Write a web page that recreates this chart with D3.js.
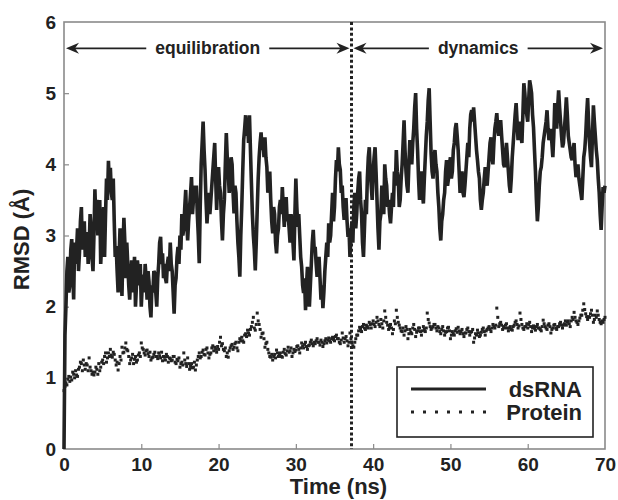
<!DOCTYPE html>
<html>
<head>
<meta charset="utf-8">
<script src="https://cdn.jsdelivr.net/npm/d3@7"></script>
<style>
  body { margin: 0; background: #fff; }
  svg { display: block; }
</style>
</head>
<body>
<svg></svg>
<script>
const w = 618
const h = 500

// time step of both series (ns)
const step = 0.125

// dsRNA RMSD (Å), 8 values per ns from 0 to 70 ns
const dsRNA = [
  0.0, 1.6, 2.0, 2.5, 2.7, 2.2, 2.3, 2.8,
  2.95, 2.5, 2.1, 2.9, 2.6, 2.8, 3.1, 2.5,
  2.75, 3.2, 3.4, 2.8, 3.0, 3.2, 2.7, 2.9,
  3.05, 2.6, 2.8, 3.3, 3.1, 2.7, 2.5, 3.0,
  3.65, 3.2, 3.5, 3.0, 3.2, 3.5, 2.6, 2.9,
  3.15, 3.4, 2.7, 3.3, 3.8, 3.5, 4.05, 3.7,
  3.95, 3.6, 3.5, 3.8, 3.2, 2.7, 2.85, 2.5,
  2.2, 2.7, 3.1, 2.5, 2.15, 2.8, 3.25, 2.9,
  2.4, 2.9, 2.6, 2.3, 2.1, 2.4, 2.65, 2.2,
  2.4, 2.7, 2.0, 2.3, 2.65, 2.5, 2.3, 2.6,
  2.0, 2.3, 2.45, 2.2, 2.6, 2.4, 2.1, 2.5,
  2.35, 2.0, 1.85, 2.3, 2.2, 2.5, 2.47, 2.2,
  2.0, 2.4, 2.6, 2.9, 2.98, 2.6, 2.75, 2.4,
  2.6, 2.4, 2.33, 2.6, 2.7, 2.5, 2.9, 2.6,
  2.5, 2.2, 1.9, 2.3, 2.4, 2.7, 2.84, 2.6,
  3.0, 2.8, 3.3, 3.0, 3.1, 3.4, 3.64, 3.2,
  2.93, 3.2, 3.4, 3.6, 3.82, 3.3, 3.5, 3.7,
  3.5, 3.7, 3.3, 3.0, 2.61, 3.4, 4.0, 4.3,
  4.6, 4.2, 3.92, 3.5, 3.17, 3.4, 3.6, 3.3,
  3.5, 3.7, 3.9, 4.1, 4.3, 3.8, 3.36, 3.7,
  3.96, 3.7, 3.6, 3.2, 2.93, 3.3, 3.5, 4.0,
  4.44, 4.1, 3.9, 3.6, 3.74, 4.1, 4.0, 3.6,
  3.31, 3.7, 3.6, 3.2, 2.9, 2.7, 2.42, 3.0,
  3.4, 3.9, 4.34, 4.5, 4.69, 4.4, 4.62, 4.3,
  4.69, 4.2, 3.74, 3.3, 3.0, 2.8, 2.51, 2.9,
  3.36, 3.8, 4.1, 4.3, 4.45, 4.2, 4.38, 4.1,
  4.38, 4.1, 3.96, 3.6, 3.7, 3.9, 3.5, 3.2,
  3.03, 3.4, 3.3, 2.9, 2.75, 3.0, 3.1, 3.4,
  3.5, 3.3, 3.68, 3.4, 3.12, 3.4, 3.54, 3.2,
  3.3, 3.1, 2.9, 3.3, 3.2, 2.9, 2.65, 3.3,
  3.8, 3.4, 3.12, 3.3, 3.0, 2.7, 2.56, 2.3,
  2.19, 2.4, 1.95, 2.3, 2.56, 2.2, 2.0, 2.3,
  2.6, 2.9, 3.08, 2.8, 2.84, 2.6, 2.42, 2.6,
  2.7, 2.4, 2.1, 2.3, 1.98, 2.2, 2.5, 2.7,
  2.9, 2.7, 3.17, 2.9, 3.0, 3.3, 3.6, 3.2,
  3.4, 3.8, 4.06, 3.9, 4.24, 4.0, 3.92, 3.6,
  3.7, 3.4, 3.22, 3.5, 3.5, 3.2, 2.98, 3.1,
  2.7, 3.0, 3.2, 2.9, 3.4, 3.6, 3.1, 3.3,
  3.6, 3.8, 3.9, 3.5, 3.3, 2.9, 2.7, 3.1,
  3.5, 3.3, 3.8, 4.1, 4.24, 3.9, 3.7, 3.5,
  3.9, 4.1, 4.24, 3.9, 3.5, 3.1, 2.8, 3.2,
  3.3, 3.7, 3.6, 3.3, 4.0, 3.8, 3.7, 3.4,
  3.5, 3.3, 3.17, 3.4, 3.6, 3.4, 3.9, 3.7,
  4.2, 3.9, 3.8, 3.4, 3.5, 3.8, 4.0, 4.3,
  4.62, 4.2, 3.9, 3.7, 3.6, 4.0, 4.34, 4.1,
  4.0, 4.3, 4.5, 4.8, 5.0, 4.5, 4.2, 3.8,
  3.5, 3.7, 3.9, 3.6, 3.45, 3.8, 4.1, 4.4,
  4.6, 4.9, 5.07, 4.6, 4.15, 3.9, 3.8, 4.1,
  4.2, 4.0, 3.9, 3.6, 3.4, 3.1, 2.93, 3.2,
  3.3, 3.5, 3.6, 3.9, 4.06, 3.7, 3.8, 4.0,
  4.1, 3.8, 3.9, 4.2, 4.3, 4.5, 4.58, 4.4,
  4.2, 3.9, 3.6, 3.8, 3.9, 3.6, 3.54, 3.7,
  3.9, 4.1, 4.3, 4.1, 4.5, 4.7, 4.76, 4.6,
  4.8, 4.6, 4.4, 4.2, 4.06, 3.9, 3.8, 3.5,
  3.36, 3.5, 3.6, 3.8, 3.96, 3.8, 3.7, 3.9,
  4.1, 4.3, 4.38, 4.1, 4.0, 4.3, 4.5, 4.6,
  4.72, 4.5, 4.4, 4.5, 4.62, 4.4, 4.2, 4.0,
  3.96, 4.1, 4.3, 4.1, 3.9, 3.7, 3.6, 3.8,
  4.1, 4.3, 4.5, 4.7, 4.86, 4.6, 4.34, 4.5,
  4.6, 4.4, 4.3, 4.7, 5.14, 5.0, 4.8, 4.7,
  4.6, 4.9, 5.18, 5.1, 5.0, 4.7, 4.52, 4.2,
  3.9, 3.5, 3.2, 3.4, 3.7, 3.9, 3.96, 4.1,
  4.3, 4.4, 4.5, 4.6, 4.76, 4.5, 4.34, 4.4,
  4.5, 4.3, 4.1, 4.4, 4.86, 4.7, 4.5, 4.8,
  5.04, 4.8, 4.6, 4.4, 4.24, 4.3, 4.5, 4.7,
  4.94, 4.7, 4.4, 4.3, 4.2, 4.1, 4.06, 4.2,
  4.3, 4.0, 3.82, 3.9, 4.0, 3.8, 3.7, 3.6,
  3.5, 3.8, 4.1, 4.2, 4.4, 4.7, 4.93, 4.6,
  4.3, 4.1, 3.96, 4.4, 4.83, 4.6, 4.4, 4.2,
  4.06, 3.8, 3.6, 3.3, 3.08, 3.4, 3.68, 3.6,
  3.7
]

// protein RMSD (Å), same time grid
const protein = [
  0.82, 0.88, 0.93, 0.9, 0.98, 1.02, 0.95, 1.01,
  0.97, 1.08, 1.05, 1.0, 1.1, 1.04, 1.02, 1.12,
  1.15, 1.22, 1.2, 1.1, 1.25, 1.18, 1.12, 1.2,
  1.18, 1.1, 1.28, 1.15, 1.1, 1.05, 1.08, 1.04,
  1.08, 1.15, 1.12, 1.05, 1.2, 1.1, 1.15, 1.22,
  1.25, 1.2, 1.3, 1.35, 1.22, 1.28, 1.35, 1.3,
  1.4, 1.32, 1.29, 1.36, 1.33, 1.25, 1.18, 1.22,
  1.11, 1.2, 1.3, 1.25, 1.43, 1.35, 1.36, 1.42,
  1.49, 1.4, 1.38, 1.3, 1.2, 1.25, 1.28, 1.33,
  1.2, 1.26, 1.3, 1.22, 1.25, 1.32, 1.35, 1.3,
  1.49, 1.42, 1.4, 1.35, 1.32, 1.38, 1.39, 1.34,
  1.3, 1.36, 1.25, 1.28, 1.29, 1.33, 1.36, 1.3,
  1.3, 1.27, 1.35, 1.31, 1.28, 1.36, 1.24, 1.3,
  1.29, 1.25, 1.33, 1.3, 1.22, 1.28, 1.27, 1.24,
  1.25, 1.3, 1.3, 1.22, 1.2, 1.26, 1.24, 1.28,
  1.15, 1.2, 1.22, 1.18, 1.35, 1.25, 1.2, 1.16,
  1.28, 1.2, 1.12, 1.16, 1.2, 1.14, 1.15, 1.22,
  1.11, 1.18, 1.25, 1.3, 1.35, 1.28, 1.3, 1.36,
  1.39, 1.33, 1.32, 1.4, 1.42, 1.35, 1.28, 1.33,
  1.35, 1.42, 1.45, 1.38, 1.43, 1.4, 1.36, 1.44,
  1.4, 1.5, 1.57, 1.45, 1.48, 1.4, 1.38, 1.42,
  1.3, 1.35, 1.29, 1.38, 1.42, 1.45, 1.47, 1.4,
  1.43, 1.48, 1.5, 1.42, 1.38, 1.5, 1.55, 1.52,
  1.57, 1.52, 1.5, 1.6, 1.62, 1.58, 1.67, 1.63,
  1.6, 1.68, 1.72, 1.78, 1.85, 1.7, 1.67, 1.75,
  1.91, 1.8, 1.75, 1.68, 1.57, 1.62, 1.63, 1.55,
  1.43, 1.48, 1.5, 1.4, 1.35, 1.3, 1.29, 1.33,
  1.25, 1.3, 1.33, 1.28, 1.39, 1.35, 1.3, 1.32,
  1.35, 1.3, 1.29, 1.36, 1.4, 1.34, 1.32, 1.38,
  1.43, 1.36, 1.38, 1.42, 1.3, 1.35, 1.4, 1.37,
  1.39, 1.44, 1.45, 1.4, 1.35, 1.42, 1.49, 1.45,
  1.42, 1.47, 1.5, 1.44, 1.4, 1.45, 1.46, 1.5,
  1.53, 1.48, 1.45, 1.5, 1.48, 1.52, 1.55, 1.5,
  1.5, 1.46, 1.53, 1.5, 1.44, 1.48, 1.52, 1.55,
  1.49, 1.53, 1.56, 1.52, 1.5, 1.55, 1.57, 1.54,
  1.52, 1.58, 1.6, 1.55, 1.55, 1.5, 1.48, 1.53,
  1.63, 1.56, 1.5, 1.55, 1.58, 1.52, 1.45, 1.5,
  1.63, 1.55, 1.49, 1.45, 1.43, 1.5, 1.55, 1.6,
  1.6, 1.66, 1.71, 1.68, 1.65, 1.72, 1.75, 1.7,
  1.68, 1.74, 1.72, 1.7, 1.78, 1.75, 1.7, 1.76,
  1.8, 1.75, 1.72, 1.78, 1.85, 1.8, 1.75, 1.72,
  1.82, 1.76, 1.7, 1.8, 1.94, 1.85, 1.78, 1.74,
  1.68, 1.72, 1.75, 1.7, 1.62, 1.68, 1.8, 1.76,
  1.95, 1.85, 1.78, 1.74, 1.7, 1.66, 1.65, 1.7,
  1.6, 1.66, 1.72, 1.68, 1.55, 1.62, 1.68, 1.64,
  1.62, 1.7, 1.75, 1.68, 1.58, 1.64, 1.66, 1.7,
  1.7, 1.65, 1.6, 1.66, 1.72, 1.68, 1.65, 1.7,
  1.91, 1.82, 1.77, 1.72, 1.68, 1.7, 1.72, 1.75,
  1.75, 1.7, 1.66, 1.72, 1.7, 1.65, 1.62, 1.68,
  1.72, 1.66, 1.6, 1.64, 1.65, 1.7, 1.71, 1.66,
  1.55, 1.6, 1.65, 1.62, 1.6, 1.66, 1.69, 1.64,
  1.71, 1.66, 1.62, 1.65, 1.68, 1.62, 1.58, 1.63,
  1.63, 1.68, 1.7, 1.65, 1.6, 1.64, 1.65, 1.68,
  1.5, 1.56, 1.62, 1.6, 1.67, 1.63, 1.58, 1.6,
  1.64, 1.68, 1.7, 1.65, 1.6, 1.66, 1.68, 1.7,
  1.72, 1.68, 1.65, 1.7, 1.75, 1.72, 1.7, 1.74,
  1.98, 1.85, 1.72, 1.76, 1.78, 1.74, 1.68, 1.72,
  1.7, 1.74, 1.76, 1.7, 1.66, 1.7, 1.72, 1.68,
  1.67, 1.72, 1.74, 1.78, 1.8, 1.75, 1.7, 1.73,
  1.91, 1.82, 1.75, 1.7, 1.68, 1.72, 1.72, 1.76,
  1.7, 1.75, 1.78, 1.72, 1.65, 1.7, 1.73, 1.7,
  1.67, 1.72, 1.75, 1.7, 1.7, 1.68, 1.66, 1.72,
  1.81, 1.76, 1.72, 1.7, 1.68, 1.74, 1.76, 1.72,
  1.63, 1.68, 1.7, 1.74, 1.75, 1.7, 1.68, 1.72,
  1.72, 1.76, 1.78, 1.74, 1.7, 1.74, 1.76, 1.8,
  1.74, 1.78, 1.8, 1.76, 1.72, 1.8, 1.85, 1.82,
  1.92, 1.85, 1.8, 1.78, 1.75, 1.8, 1.84, 1.88,
  1.88, 1.95, 2.04, 1.96, 1.9, 1.86, 1.82, 1.86,
  1.85, 1.9, 1.95, 1.88, 1.78, 1.82, 1.88, 1.85,
  1.94, 1.88, 1.82, 1.78, 1.76, 1.8, 1.78, 1.82,
  1.85
]

const xTicks = [0, 10, 20, 30, 40, 50, 60, 70]
const yTicks = [0, 1, 2, 3, 4, 5, 6]
const splitTime = 37.2   // end of equilibration
const phases = [
  {label: 'equilibration', from: 0, to: splitTime},
  {label: 'dynamics', from: splitTime, to: 70}
]
const legendItems = [
  {label: 'dsRNA', dotted: false},
  {label: 'Protein', dotted: true}
]

const font = '"Liberation Sans", Arial, sans-serif'
const ink = '#222'

const svg = d3.select('svg')
  .attr('width', w)
  .attr('height', h);

const margin = {top: 22, right: 13, bottom: 51, left: 64};
const innerWidth = w - margin.left - margin.right;
const innerHeight = h - margin.top - margin.bottom;

const xScale = d3.scaleLinear().domain([0, 70]).range([0, innerWidth]);
const yScale = d3.scaleLinear().domain([0, 6]).range([innerHeight, 0]);

const g = svg.append('g')
  .attr('transform', `translate(${margin.left}, ${margin.top})`);

// frame
g.append('rect')
  .attr('width', innerWidth)
  .attr('height', innerHeight)
  .attr('fill', 'none')
  .attr('stroke', '#8a8a8a')
  .attr('stroke-width', 1.6);

// axes with inward ticks
const xAxisG = g.append('g')
  .attr('transform', `translate(0, ${innerHeight})`)
  .call(d3.axisBottom(xScale).tickValues(xTicks).tickFormat(d3.format('d')).tickSize(-5).tickPadding(9));
const yAxisG = g.append('g')
  .call(d3.axisLeft(yScale).tickValues(yTicks).tickFormat(d3.format('d')).tickSize(-5).tickPadding(8));

[xAxisG, yAxisG].forEach(a => {
  a.attr('font-family', font).attr('font-size', 19).attr('font-weight', 'bold');
  a.select('.domain').remove();
  a.selectAll('.tick line').attr('stroke', '#8a8a8a').attr('stroke-width', 1.2);
  a.selectAll('.tick text').attr('fill', ink);
});
xAxisG.selectAll('.tick line').filter(d => d === 0 || d === 70).remove();
yAxisG.selectAll('.tick line').filter(d => d === 0 || d === 6).remove();

// axis titles
svg.append('text')
  .attr('x', margin.left + innerWidth / 2 + 4)
  .attr('y', 494)
  .attr('text-anchor', 'middle')
  .attr('font-family', font).attr('font-weight', 'bold').attr('font-size', 22)
  .attr('fill', ink)
  .text('Time (ns)');

svg.append('text')
  .attr('transform', `translate(29, ${margin.top + innerHeight / 2 + 4}) rotate(-90)`)
  .attr('text-anchor', 'middle')
  .attr('font-family', font).attr('font-weight', 'bold').attr('font-size', 22)
  .attr('fill', ink)
  .text('RMSD (Å)');

// dsRNA trace
const line = d3.line()
  .x((d, i) => xScale(i * step))
  .y(d => yScale(d));

g.append('path')
  .datum(dsRNA)
  .attr('d', line)
  .attr('fill', 'none')
  .attr('stroke', ink)
  .attr('stroke-width', 3.6)
  .attr('stroke-linejoin', 'miter')
  .attr('stroke-miterlimit', 2);

// protein dots
g.selectAll('rect.pt').data(protein)
  .enter().append('rect')
  .attr('class', 'pt')
  .attr('x', (d, i) => xScale(i * step) - 1.5)
  .attr('y', d => yScale(d) - 1.5)
  .attr('width', 3)
  .attr('height', 3)
  .attr('fill', ink);

// equilibration / dynamics split
g.append('line')
  .attr('x1', xScale(splitTime)).attr('x2', xScale(splitTime))
  .attr('y1', 0).attr('y2', innerHeight)
  .attr('stroke', ink)
  .attr('stroke-width', 3)
  .attr('stroke-dasharray', '3,2.4');

// phase arrows
const arrowY = yScale(5.63);
const head = (tip, dir) => {
  // notched arrowhead pointing in dir (+1 right, -1 left)
  const L = 13 * dir, n = 9 * dir;
  return `M${tip},${arrowY} L${tip - L},${arrowY - 5.5} L${tip - n},${arrowY} L${tip - L},${arrowY + 5.5} Z`;
};
phases.forEach(p => {
  const x0 = xScale(p.from) + 2, x1 = xScale(p.to) - 2;
  const mid = (x0 + x1) / 2;
  const t = g.append('text')
    .attr('x', mid)
    .attr('y', arrowY + 6)
    .attr('text-anchor', 'middle')
    .attr('font-family', font).attr('font-weight', 'bold').attr('font-size', 17.5)
    .attr('fill', ink)
    .text(p.label);
  const half = t.node().getComputedTextLength() / 2 + 9;
  g.append('line')
    .attr('x1', x0 + 8).attr('x2', mid - half)
    .attr('y1', arrowY).attr('y2', arrowY)
    .attr('stroke', ink).attr('stroke-width', 1.6);
  g.append('line')
    .attr('x1', mid + half).attr('x2', x1 - 8)
    .attr('y1', arrowY).attr('y2', arrowY)
    .attr('stroke', ink).attr('stroke-width', 1.6);
  g.append('path').attr('d', head(x0, -1)).attr('fill', ink);
  g.append('path').attr('d', head(x1, 1)).attr('fill', ink);
});

// legend
const legend = svg.append('g').attr('transform', 'translate(397, 367)');
legend.append('rect')
  .attr('width', 196)
  .attr('height', 70)
  .attr('fill', '#fff')
  .attr('stroke', ink)
  .attr('stroke-width', 1.6);
legendItems.forEach((d, i) => {
  const y = 22 + i * 23;
  legend.append('line')
    .attr('x1', 14).attr('x2', 89)
    .attr('y1', y).attr('y2', y)
    .attr('stroke', ink)
    .attr('stroke-width', 3)
    .attr('stroke-dasharray', d.dotted ? '3,9' : null);
  legend.append('text')
    .attr('x', 185)
    .attr('y', y + 8)
    .attr('text-anchor', 'end')
    .attr('font-family', font).attr('font-weight', 'bold').attr('font-size', 22)
    .attr('fill', ink)
    .text(d.label);
});
</script>
</body>
</html>
